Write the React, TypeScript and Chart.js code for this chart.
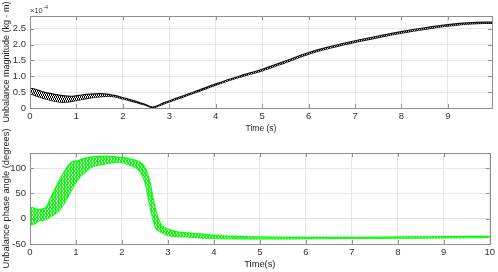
import React, { useEffect, useRef } from "react";
import { Chart, registerables } from "chart.js";

Chart.register(...registerables);

// ---- Top subplot: unbalance magnitude (values in units of 1e-4 kg·m) ----
const topTime = [0, 0.1, 0.3, 0.5, 0.7, 0.9, 1.1, 1.3, 1.5, 1.7, 2.0, 2.3, 2.5, 2.65, 2.8, 3.0, 3.5, 4.0, 4.5, 5.0, 5.5, 6.0, 6.5, 7.0, 7.5, 8.0, 8.5, 9.0, 9.5, 9.95];
const topUpper = [0.62, 0.6, 0.5, 0.44, 0.39, 0.37, 0.41, 0.44, 0.45, 0.43, 0.33, 0.2, 0.1, 0.03, 0.11, 0.23, 0.49, 0.76, 1.0, 1.22, 1.48, 1.75, 1.95, 2.12, 2.27, 2.41, 2.53, 2.63, 2.69, 2.71];
const topLower = [0.45, 0.4, 0.3, 0.22, 0.18, 0.21, 0.26, 0.32, 0.35, 0.37, 0.29, 0.17, 0.08, 0.01, 0.08, 0.19, 0.45, 0.72, 0.96, 1.17, 1.43, 1.7, 1.9, 2.07, 2.22, 2.36, 2.48, 2.58, 2.65, 2.67];
const topSpikeTime = [0, 0];
const topSpikeValue = [0.45, 1.05];
const topXTicks = [0, 1, 2, 3, 4, 5, 6, 7, 8, 9];
const topYTicks = [0, 0.5, 1, 1.5, 2, 2.5];

// ---- Bottom subplot: unbalance phase angle (degrees) ----
const botTime = [0, 0.04, 0.18, 0.33, 0.47, 0.62, 0.76, 0.91, 1.05, 1.2, 1.34, 1.63, 1.92, 2.2, 2.39, 2.5, 2.61, 2.72, 2.83, 3.04, 3.41, 3.7, 4.0, 5.0, 6.0, 7.0, 8.0, 9.0, 10.0];
const botUpper = [22, 22, 18, 21, 45, 72, 95, 112, 115, 120, 122, 124, 122, 118, 112, 102, 72, 22, -8, -22, -28, -30, -33, -36, -37, -37, -36, -35.5, -35];
const botLower = [-12, -12, -5, -2, 5, 15, 32, 58, 78, 92, 102, 108, 112, 105, 94, 72, 24, -16, -26, -34, -36, -38, -39, -40, -39.5, -39, -38.5, -38, -37];
const botSpikeTime = [0, 0];
const botSpikeValue = [-50, 130];
const botXTicks = [0, 1, 2, 3, 4, 5, 6, 7, 8, 9, 10];
const botYTicks = [-50, 0, 50, 100];

const FONT = "'Liberation Sans', Arial, Helvetica, sans-serif";

const pts = (xs: number[], ys: number[]) => xs.map((x, i) => ({ x, y: ys[i] }));

function stripePattern(color: string, on: number, off: number) {
  const c = document.createElement("canvas");
  c.width = on + off;
  c.height = 4;
  const g = c.getContext("2d")!;
  g.fillStyle = "rgba(255,255,255,0.6)";
  g.fillRect(0, 0, on + off, 4);
  g.fillStyle = color;
  // slanted strokes to imitate the dense zig-zag
  for (let r = 0; r < 4; r++) {
    const shift = r < 2 ? 0 : 1;
    g.fillRect(shift, r, on, 1);
  }
  return g.createPattern(c, "repeat");
}

const boxPlugin = {
  id: "matlabBox",
  afterDraw(chart: any) {
    const { ctx, chartArea } = chart;
    const { left, top, right, bottom } = chartArea;
    const xs = chart.scales.x;
    const ys = chart.scales.y;
    ctx.save();
    ctx.strokeStyle = "#8f8f8f";
    ctx.lineWidth = 1;
    ctx.strokeRect(Math.round(left) + 0.5, Math.round(top) + 0.5, Math.round(right - left), Math.round(bottom - top));
    ctx.beginPath();
    xs.ticks.forEach((t: any) => {
      const px = Math.round(xs.getPixelForValue(t.value)) + 0.5;
      ctx.moveTo(px, bottom);
      ctx.lineTo(px, bottom - 4);
      ctx.moveTo(px, top);
      ctx.lineTo(px, top + 4);
    });
    ys.ticks.forEach((t: any) => {
      const py = Math.round(ys.getPixelForValue(t.value)) + 0.5;
      ctx.moveTo(left, py);
      ctx.lineTo(left + 4, py);
      ctx.moveTo(right, py);
      ctx.lineTo(right - 4, py);
    });
    ctx.stroke();
    const exp = chart.options.plugins.matlabBox?.exponent;
    if (exp) {
      ctx.fillStyle = "#333";
      ctx.textBaseline = "alphabetic";
      ctx.font = `7.5px ${FONT}`;
      ctx.fillText("×10", left, top - 3);
      const w = ctx.measureText("×10").width;
      ctx.font = `5.5px ${FONT}`;
      ctx.fillText(exp, left + w + 0.5, top - 7);
    }
    ctx.restore();
  },
};

function makeConfig(opts: {
  bandUpper: any[];
  bandLower: any[];
  spike: any[];
  color: string;
  fill: any;
  lineWidth: number;
  xMax: number;
  yMin: number;
  yMax: number;
  xTicks: number[];
  yTicks: number[];
  xTitle: string;
  yTitle: string;
  yTitleSize: number;
  xTitleSize: number;
  padTop: number;
  exponent?: string;
}) {
  return {
    type: "line",
    data: {
      datasets: [
        {
          data: opts.bandUpper,
          borderColor: opts.color,
          borderWidth: opts.lineWidth,
          backgroundColor: opts.fill,
          fill: "+1",
          pointRadius: 0,
          cubicInterpolationMode: "monotone",
        },
        {
          data: opts.bandLower,
          borderColor: opts.color,
          borderWidth: opts.lineWidth,
          fill: false,
          pointRadius: 0,
          cubicInterpolationMode: "monotone",
        },
        {
          data: opts.spike,
          borderColor: opts.color,
          borderWidth: 1.5,
          fill: false,
          pointRadius: 0,
        },
      ],
    },
    options: {
      responsive: false,
      animation: false,
      devicePixelRatio: 1,
      layout: { padding: { top: opts.padTop, right: 6, left: 0, bottom: 0 } },
      plugins: {
        legend: { display: false },
        tooltip: { enabled: false },
        matlabBox: { exponent: opts.exponent },
      },
      scales: {
        x: {
          type: "linear",
          min: 0,
          max: opts.xMax,
          afterFit: (s: any) => {
            s.height = 28;
          },
          afterBuildTicks: (s: any) => {
            s.ticks = opts.xTicks.map((v) => ({ value: v }));
          },
          ticks: {
            padding: 3,
            maxRotation: 0,
            autoSkip: false,
            color: "#333",
            font: { family: FONT, size: 9.5 },
          },
          grid: { color: "#e6e6e6", drawTicks: false },
          border: { display: false },
          title: {
            display: true,
            text: opts.xTitle,
            color: "#222",
            padding: { top: 0, bottom: 2 },
            font: { family: FONT, size: opts.xTitleSize },
          },
        },
        y: {
          type: "linear",
          min: opts.yMin,
          max: opts.yMax,
          afterFit: (s: any) => {
            s.width = 30;
          },
          afterBuildTicks: (s: any) => {
            s.ticks = opts.yTicks.map((v) => ({ value: v }));
          },
          ticks: {
            padding: 4,
            autoSkip: false,
            color: "#333",
            font: { family: FONT, size: 9.5 },
          },
          grid: { color: "#e6e6e6", drawTicks: false },
          border: { display: false },
          title: {
            display: true,
            text: opts.yTitle,
            color: "#222",
            padding: { top: 1, bottom: 0 },
            font: { family: FONT, size: opts.yTitleSize },
          },
        },
      },
    },
    plugins: [boxPlugin],
  } as any;
}

export default function App() {
  const topRef = useRef<HTMLCanvasElement>(null);
  const botRef = useRef<HTMLCanvasElement>(null);

  useEffect(() => {
    const top = new Chart(
      topRef.current!,
      makeConfig({
        bandUpper: pts(topTime, topUpper),
        bandLower: pts(topTime, topLower),
        spike: pts(topSpikeTime, topSpikeValue),
        color: "#111111",
        fill: stripePattern("#000000", 1, 1),
        lineWidth: 1.2,
        xMax: 9.95,
        yMin: 0,
        yMax: 2.9,
        xTicks: topXTicks,
        yTicks: topYTicks,
        xTitle: "Time (s)",
        yTitle: "Unbalance magnitude (kg · m)",
        yTitleSize: 9,
        xTitleSize: 8.5,
        padTop: 16,
        exponent: "-4",
      })
    );
    const bot = new Chart(
      botRef.current!,
      makeConfig({
        bandUpper: pts(botTime, botUpper),
        bandLower: pts(botTime, botLower),
        spike: pts(botSpikeTime, botSpikeValue),
        color: "#00ff00",
        fill: stripePattern("#00ff00", 2, 1),
        lineWidth: 1.2,
        xMax: 10,
        yMin: -50,
        yMax: 130,
        xTicks: botXTicks,
        yTicks: botYTicks,
        xTitle: "Time(s)",
        yTitle: "Unbalance phase angle (degrees)",
        yTitleSize: 9.3,
        xTitleSize: 9.3,
        padTop: 33,
      })
    );
    return () => {
      top.destroy();
      bot.destroy();
    };
  }, []);

  return (
    <div style={{ position: "absolute", left: 0, top: 0, width: 498, height: 272, background: "#fff" }}>
      <canvas ref={topRef} width={498} height={136} style={{ position: "absolute", left: 0, top: 0 }} />
      <canvas ref={botRef} width={498} height={152} style={{ position: "absolute", left: 0, top: 120 }} />
    </div>
  );
}
